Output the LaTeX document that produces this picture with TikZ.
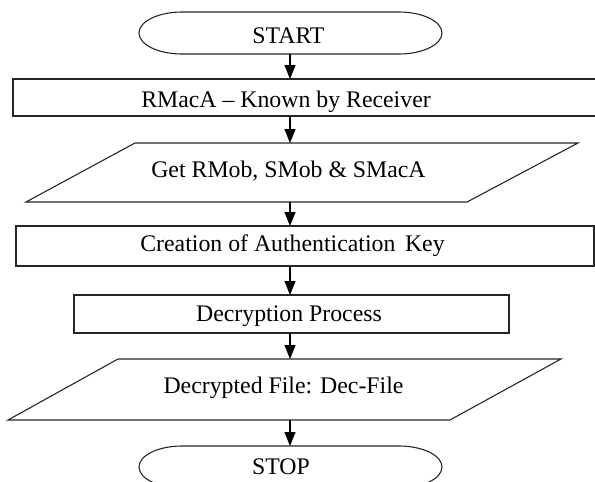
\documentclass[tikz,border=0pt]{standalone}
\usepackage{fontspec}
\setmainfont{Liberation Serif}
\usetikzlibrary{arrows.meta,calc}
\begin{document}
\begin{tikzpicture}[x=1pt,y=-1pt,
  shapebox/.style={draw=none,inner sep=0pt,outer sep=0pt,rectangle},
  outline/.style={draw=black!85,line width=1.1pt,line join=miter},
  lbl/.style={anchor=base,inner sep=0pt,font=\fontsize{23.8}{28}\selectfont,text=black},
  arr/.style={draw=black,line width=1.2pt,-{Triangle[length=14pt,width=11pt]}}]
\useasboundingbox (0,0) rectangle (595,482);
\clip (0,0) rectangle (595,482);
\coordinate (axis) at (290,0);

% START oval
\node[shapebox,minimum width=303pt,minimum height=42pt] (start) at (290.5,33) {};
\draw[outline] ([xshift=43pt]start.north west) -- ([xshift=-43pt]start.north east)
  arc[start angle=90,end angle=-90,x radius=43pt,y radius=21pt]
  -- ([xshift=43pt]start.south west)
  arc[start angle=270,end angle=90,x radius=43pt,y radius=21pt] -- cycle;
\node[lbl] (tstart) at (288.5,43) {START};

% RMacA rectangle
\node[shapebox,outline,minimum width=584pt,minimum height=37pt] (rmaca) at (305,97.5) {};
\node[lbl] (trmaca) at (286,107) {RMacA – Known by Receiver};

% Parallelogram 1
\node[shapebox,minimum width=552pt,minimum height=59pt] (p1) at (302,172.5) {};
\draw[outline] (p1.south west) -- ([xshift=109pt]p1.north west) -- (p1.north east)
  -- ([xshift=-111pt]p1.south east) -- cycle;
\node[lbl] (tp1) at (288.5,177) {Get RMob, SMob \& SMacA};

% Creation rectangle
\node[shapebox,outline,minimum width=578pt,minimum height=40pt] (create) at (305,246) {};
\node[lbl] (tcreate) at (292.5,251) {Creation of Authentication\hspace{0.4em}Key};

% Decryption rectangle
\node[shapebox,outline,minimum width=435pt,minimum height=38pt] (decr) at (291.5,314) {};
\node[lbl] (tdecr) at (289,321) {Decryption Process};

% Parallelogram 2
\node[shapebox,minimum width=553pt,minimum height=61pt] (p2) at (284.5,389.5) {};
\draw[outline] (p2.south west) -- ([xshift=110pt]p2.north west) -- (p2.north east)
  -- ([xshift=-111pt]p2.south east) -- cycle;
\node[lbl] (tp2) at (283.5,393) {Decrypted File: Dec-File};

% STOP oval
\node[shapebox,minimum width=303pt,minimum height=42pt] (stop) at (290.5,467) {};
\draw[outline] ([xshift=43pt]stop.north west) -- ([xshift=-43pt]stop.north east)
  arc[start angle=90,end angle=-90,x radius=43pt,y radius=21pt]
  -- ([xshift=43pt]stop.south west)
  arc[start angle=270,end angle=90,x radius=43pt,y radius=21pt] -- cycle;
\node[lbl] (tstop) at (281,474) {STOP};

% connectors
\draw[arr] (axis |- start.south) -- (axis |- rmaca.north);
\draw[arr] (axis |- rmaca.south) -- (axis |- p1.north);
\draw[arr] (axis |- p1.south) -- (axis |- create.north);
\draw[arr] (axis |- create.south) -- (axis |- decr.north);
\draw[arr] (axis |- decr.south) -- (axis |- p2.north);
\draw[arr] (axis |- p2.south) -- (axis |- stop.north);
\end{tikzpicture}
\end{document}
